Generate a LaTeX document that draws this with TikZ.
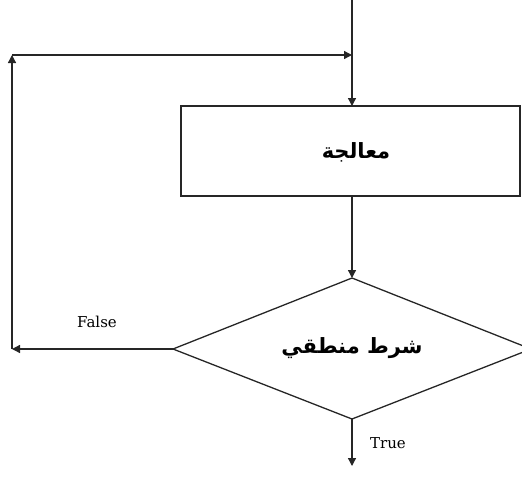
\documentclass[tikz,border=0pt]{standalone}
\usepackage{fontspec}
\setmainfont{DejaVu Serif}
\newfontfamily\arabicfont[Script=Arabic]{DejaVu Sans}
\TeXXeTstate=1
\usetikzlibrary{arrows.meta}
\begin{document}
\begin{tikzpicture}[x=1pt,y=-1pt,
  line/.style={draw=black!85, line width=1.3pt},
  flow/.style={line, -{Triangle[length=8pt,width=8pt]}},
  lbl/.style={font=\fontsize{15}{16}\selectfont, inner sep=0pt},
  artext/.style={font=\arabicfont\bfseries\fontsize{21}{24}\selectfont, inner sep=0pt}]
  \useasboundingbox (0,0) rectangle (522,491);
  \begin{scope}
    \clip (0,0) rectangle (522,491);
    % process box and decision diamond
    \draw[line] (181,106) rectangle (520,196);
    \node[artext] (proc) at (356,152) {\beginR معالجة\endR};
    \coordinate (boxtop) at (352,106);
    \coordinate (boxbot) at (352,196);
    \coordinate (dtop) at (352,278);
    \coordinate (dleft) at (173,349);
    \coordinate (dright) at (531,349);
    \coordinate (dbot) at (352,419);
    \draw[line] (dtop) -- (dright) -- (dbot) -- (dleft) -- cycle;
    \node[artext] (cond) at (352,348) {\beginR شرط منطقي\endR};
    % entry and main flow
    \coordinate (entry) at (352,0);
    \draw[flow] (entry) -- (boxtop);
    \draw[flow] (boxbot) -- (dtop);
    % false branch loops back
    \coordinate (fl) at (12,349);
    \coordinate (ft) at (12,55);
    \coordinate (fj) at (352,55);
    \draw[flow] (dleft) -- (fl);
    \draw[flow] (fl) -- (ft);
    \draw[flow] (ft) -- (fj);
    \node[lbl] (false) at (97,322) {False};
    % true branch exits
    \coordinate (exit) at (352,466);
    \draw[flow] (dbot) -- (exit);
    \node[lbl] (true) at (388,443) {True};
  \end{scope}
\end{tikzpicture}
\end{document}
